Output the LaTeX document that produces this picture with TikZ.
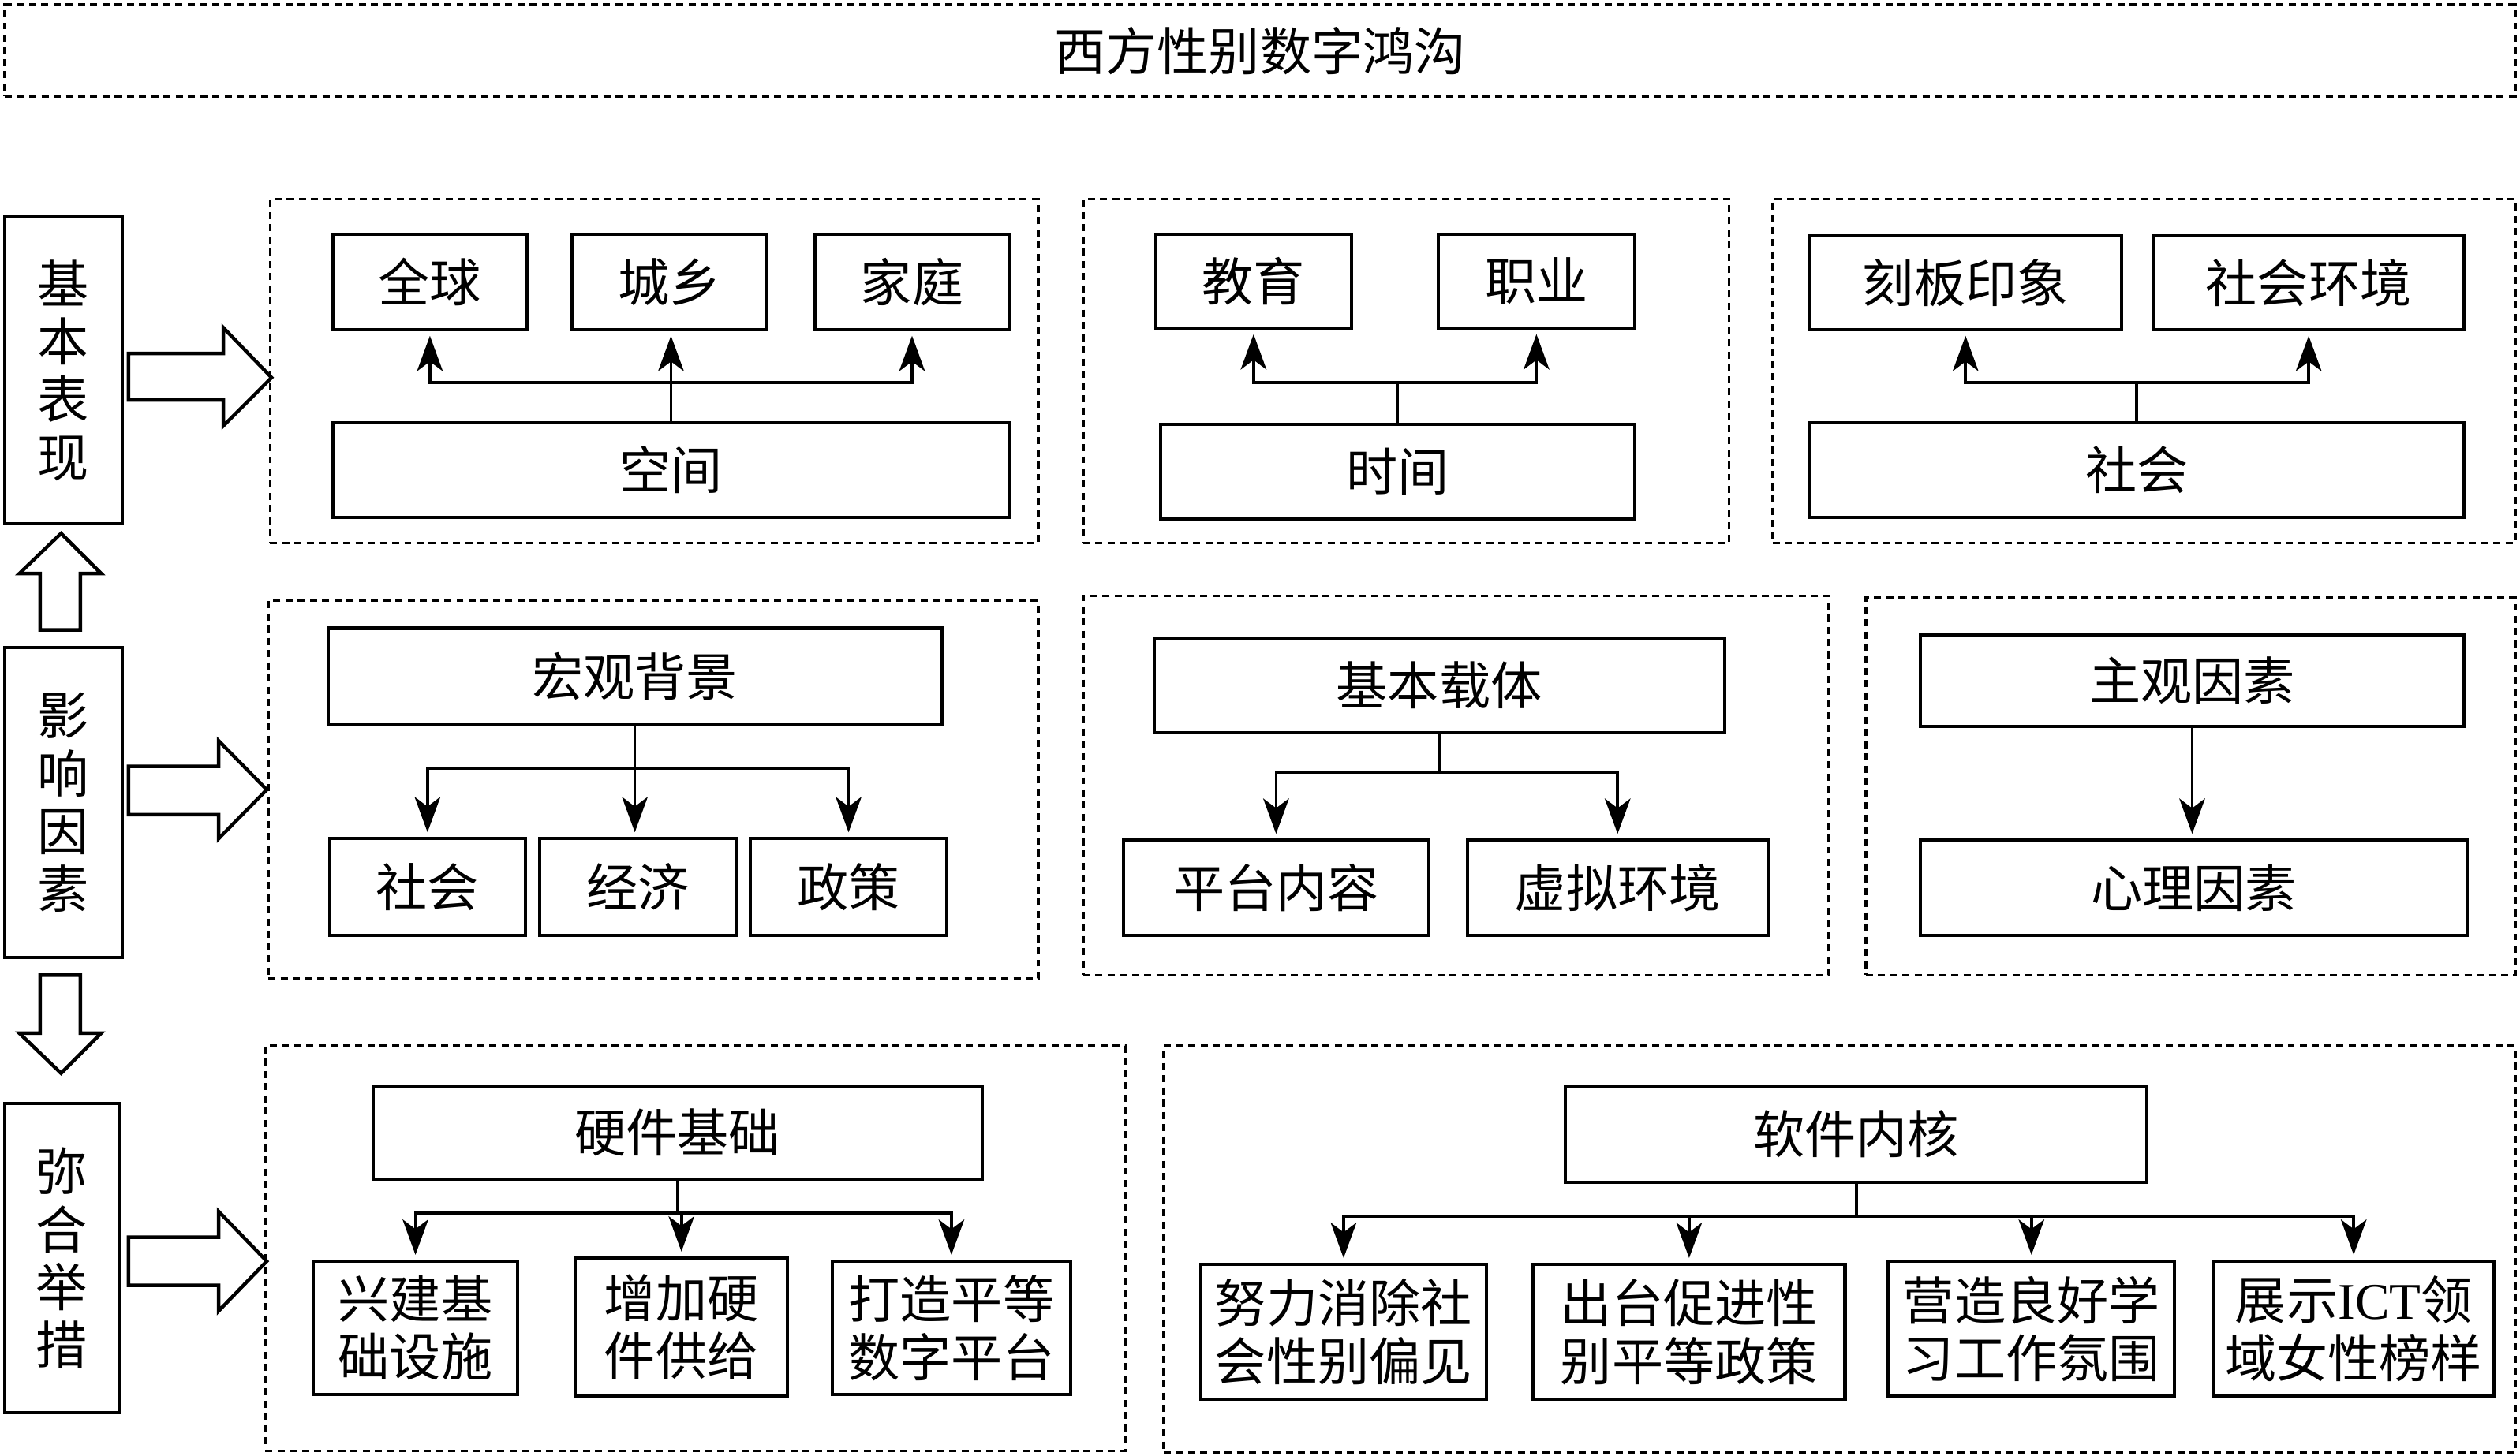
\documentclass[tikz,border=0pt]{standalone}
\usepackage{fontspec}
\setmainfont{Liberation Serif}
\newfontfamily\cjk{Noto Sans CJK SC}
\usetikzlibrary{fit,arrows.meta}
\newcommand{\mybox}[7][box]{\node[#1, minimum width={(#5-#3)*0.5pt}, minimum height={(#6-#4)*0.5pt}] (#2) at ({(#3+#5)/2},{(#4+#6)/2}) {#7};}
\begin{document}
\begin{tikzpicture}[x=0.5pt,y=-0.5pt,
  box/.style={draw, line width=1pt, inner sep=0pt, font=\cjk\fontsize{16pt}{18pt}\selectfont, align=center},
  panel/.style={draw, line width=0.8pt, dash pattern=on 2.2pt off 1.6pt, inner sep=0pt},
  titlebox/.style={panel, font=\cjk\fontsize{16pt}{18pt}\selectfont},
  conn/.style={line width=0.9pt, -{Stealth[length=11pt,width=8pt,inset=3pt]}, shorten >=1.5pt},
  link/.style={line width=0.9pt},
  bigarrow/.style={draw, line width=1.1pt, line join=miter, fill=white}]
\useasboundingbox (0,0) rectangle (1568,906);

% title
\mybox[titlebox]{title}{3}{3}{1565}{60}{西方性别数字鸿沟}

% left column
\mybox{L1}{3}{135}{76}{326}{基\\本\\表\\现}
\mybox{L2}{3}{403}{76}{596}{影\\响\\因\\素}
\mybox{L3}{3}{687}{74}{879}{弥\\合\\举\\措}

% block arrows
\draw[bigarrow] (25,392) -- (25,357) -- (12,357) -- (38,332) -- (63,357) -- (50,357) -- (50,392) -- cycle;
\draw[bigarrow] (25,607) -- (25,643) -- (12,643) -- (38,668) -- (63,643) -- (50,643) -- (50,607) -- cycle;
\draw[bigarrow] (80,220) -- (139,220) -- (139,204) -- (169,235) -- (139,265) -- (139,249) -- (80,249) -- cycle;
\draw[bigarrow] (80,477) -- (136,477) -- (136,461) -- (166,491.5) -- (136,522) -- (136,507) -- (80,507) -- cycle;
\draw[bigarrow] (80,770) -- (136,770) -- (136,754) -- (166,785) -- (136,816) -- (136,800) -- (80,800) -- cycle;

% panels
\node[panel, fit={(168,124) (646,338)}] (P1) {};
\node[panel, fit={(674,124) (1076,338)}] (P2) {};
\node[panel, fit={(1103,124) (1565,338)}] (P3) {};
\node[panel, fit={(167,374) (646,609)}] (P4) {};
\node[panel, fit={(674,371) (1138,607)}] (P5) {};
\node[panel, fit={(1161,372) (1565,607)}] (P6) {};
\node[panel, fit={(165,651) (700,903)}] (P7) {};
\node[panel, fit={(724,651) (1565,904)}] (P8) {};

% row 1
\mybox{qq}{207}{146}{328}{205}{全球}
\mybox{cx}{356}{146}{477}{205}{城乡}
\mybox{jt}{507}{146}{628}{205}{家庭}
\mybox{kj}{207}{263}{628}{322}{空间}
\mybox{jy}{719}{146}{841}{204}{教育}
\mybox{zy}{895}{146}{1017}{204}{职业}
\mybox{sj}{722}{264}{1017}{323}{时间}
\mybox{kb}{1126}{147}{1320}{205}{刻板印象}
\mybox{shhj}{1340}{147}{1533}{205}{社会环境}
\mybox{sh1}{1126}{263}{1533}{322}{社会}

\coordinate (h1) at (0,238);
\coordinate (j1) at (kj.north |- h1);
\coordinate (j2) at (sj.north |- h1);
\coordinate (j3) at (sh1.north |- h1);
\draw[conn] (kj.north) -- (kj.north |- cx.south);
\draw[conn] (j1) -| (qq.south);
\draw[conn] (j1) -| (jt.south);
\draw[link] (sj.north) -- (j2);
\draw[conn] (j2) -| (jy.south);
\draw[conn] (j2) -| (zy.south);
\draw[link] (sh1.north) -- (j3);
\draw[conn] (j3) -| (kb.south);
\draw[conn] (j3) -| (shhj.south);

% row 2
\mybox{hg}{204}{391}{586}{451}{宏观背景}
\mybox{sh2}{205}{522}{327}{582}{社会}
\mybox{jj}{336}{522}{458}{582}{经济}
\mybox{zc}{467}{522}{589}{582}{政策}
\mybox{jbzt}{718}{397}{1073}{456}{基本载体}
\mybox{ptnr}{699}{523}{889}{582}{平台内容}
\mybox{xnhj}{913}{523}{1100}{582}{虚拟环境}
\mybox{zg}{1195}{395}{1533}{452}{主观因素}
\mybox{xl}{1195}{523}{1535}{582}{心理因素}

\coordinate (h2) at (0,478);
\coordinate (h3) at (0,480.5);
\coordinate (j4) at (hg.south |- h2);
\coordinate (j5) at (jbzt.south |- h3);
\draw[conn] (hg.south) -- (hg.south |- jj.north);
\draw[conn] (j4) -| (sh2.north);
\draw[conn] (j4) -| (zc.north);
\draw[link] (jbzt.south) -- (j5);
\draw[conn] (j5) -| (ptnr.north);
\draw[conn] (j5) -| (xnhj.north);
\draw[conn] (zg.south) -- (zg.south |- xl.north);

% row 3
\mybox{yj}{232}{676}{611}{734}{硬件基础}
\mybox{xj}{195}{785}{322}{868}{兴建基\\础设施}
\mybox{zj}{358}{783}{490}{869}{增加硬\\件供给}
\mybox{dz}{518}{785}{666}{868}{打造平等\\数字平台}
\mybox{rj}{974}{676}{1336}{736}{软件内核}
\mybox{nl}{747}{787}{925}{871}{努力消除社\\会性别偏见}
\mybox{ct}{954}{787}{1148}{871}{出台促进性\\别平等政策}
\mybox{yz}{1175}{785}{1353}{869}{营造良好学\\习工作氛围}
\mybox{zs}{1377}{785}{1552}{869}{展示{\rmfamily ICT}领\\域女性榜样}

\coordinate (h4) at (0,755);
\coordinate (h5) at (0,757);
\coordinate (j6) at (yj.south |- h4);
\coordinate (j7) at (rj.south |- h5);
\draw[link] (yj.south) -- (j6);
\draw[conn] (j6) -| (xj.north);
\draw[conn] (j6) -| (zj.north);
\draw[conn] (j6) -| (dz.north);
\draw[link] (rj.south) -- (j7);
\draw[conn] (j7) -| (nl.north);
\draw[conn] (j7) -| (ct.north);
\draw[conn] (j7) -| (yz.north);
\draw[conn] (j7) -| (zs.north);
\end{tikzpicture}
\end{document}
